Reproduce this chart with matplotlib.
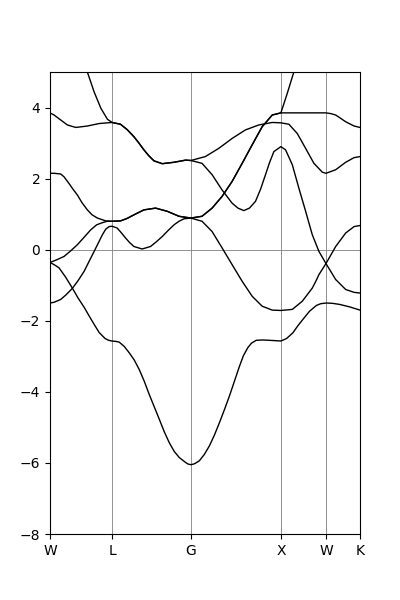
import numpy as np
import matplotlib
matplotlib.use("Agg")
import matplotlib.pyplot as plt

# high-symmetry points along the path
labels = ["W", "L", "G", "X", "W", "K"]
kpts = [0.0, 0.690, 1.565, 2.565, 3.066, 3.444]

# bands, one (k, E) list per visible line
k1 = [0.0, 0.045, 0.119, 0.193, 0.286, 0.415, 0.546, 0.690,
      0.783, 0.857, 0.932, 0.988, 1.043, 1.099, 1.155, 1.247, 1.378, 1.507, 1.565,
      1.726, 1.874, 2.023, 2.171, 2.320, 2.469, 2.565,
      2.654, 2.747, 2.840, 2.932, 3.026, 3.066,
      3.174, 3.285, 3.378, 3.444]
e1 = [3.85, 3.79, 3.65, 3.51, 3.44, 3.48, 3.55, 3.58,
      3.53, 3.38, 3.18, 3.00, 2.81, 2.64, 2.50, 2.42, 2.46, 2.52, 2.51,
      2.62, 2.85, 3.13, 3.37, 3.51, 3.58, 3.57,
      3.53, 3.27, 2.85, 2.43, 2.18, 2.15,
      2.25, 2.46, 2.59, 2.62]

k2 = [0.345, 0.415, 0.490, 0.565, 0.638, 0.690,
      0.783, 0.857, 0.932, 0.988, 1.043, 1.099, 1.155, 1.247, 1.378, 1.507, 1.565,
      1.689, 1.801, 1.912, 2.023, 2.088, 2.153, 2.216, 2.283, 2.339, 2.394, 2.439, 2.487, 2.565,
      2.617, 2.692, 2.765, 2.840, 2.914, 2.988, 3.066,
      3.174, 3.285, 3.378, 3.444]
e2 = [5.6, 5.0, 4.44, 3.98, 3.67, 3.58,
      3.53, 3.38, 3.18, 3.00, 2.81, 2.64, 2.50, 2.42, 2.46, 2.52, 2.51,
      2.43, 2.11, 1.68, 1.31, 1.17, 1.10, 1.17, 1.36, 1.70, 2.11, 2.45, 2.76, 2.90,
      2.81, 2.39, 1.73, 1.08, 0.42, -0.05, -0.39,
      -0.84, -1.12, -1.20, -1.22]

k3 = [0.0, 0.045, 0.119, 0.156, 0.212, 0.256, 0.304, 0.356, 0.415, 0.468, 0.527, 0.620, 0.690,
      0.783, 0.857, 0.932, 1.043, 1.173, 1.303, 1.433, 1.565,
      1.689, 1.801, 1.912, 2.023, 2.135, 2.246, 2.357, 2.469, 2.565,
      2.636, 2.709, 2.773]
e3 = [2.15, 2.15, 2.13, 2.05, 1.86, 1.70, 1.54, 1.32, 1.12, 0.98, 0.89, 0.81, 0.80,
      0.81, 0.88, 0.98, 1.12, 1.17, 1.08, 0.94, 0.89,
      0.94, 1.17, 1.50, 1.92, 2.43, 2.95, 3.46, 3.79, 3.85,
      4.40, 5.0, 5.6]

k4 = [0.0, 0.078, 0.156, 0.231, 0.304, 0.379, 0.453, 0.518, 0.582, 0.635, 0.690,
      0.783, 0.857, 0.932, 1.043, 1.173, 1.303, 1.433, 1.565,
      1.689, 1.801, 1.912, 2.023, 2.135, 2.246, 2.357, 2.469, 2.565,
      2.773, 3.066, 3.118, 3.174, 3.285, 3.378, 3.444]
e4 = [-0.36, -0.28, -0.19, -0.03, 0.14, 0.35, 0.56, 0.70, 0.76, 0.80, 0.80,
      0.81, 0.88, 0.98, 1.12, 1.17, 1.08, 0.94, 0.89,
      0.94, 1.17, 1.50, 1.92, 2.43, 2.95, 3.46, 3.79, 3.85,
      3.85, 3.85, 3.83, 3.79, 3.60, 3.48, 3.44]

k5 = [0.0, 0.045, 0.119, 0.178, 0.248, 0.312, 0.379, 0.434, 0.490, 0.535, 0.582, 0.620, 0.657, 0.690,
      0.746, 0.791, 0.839, 0.885, 0.932, 1.024, 1.117, 1.180, 1.247, 1.312, 1.378, 1.433, 1.489, 1.565,
      1.689, 1.801, 1.912, 2.023, 2.135, 2.246, 2.357, 2.469, 2.565,
      2.692, 2.803, 2.914, 2.951, 2.988, 3.066, 3.174, 3.285, 3.378, 3.444]
e5 = [-1.50, -1.48, -1.40, -1.27, -1.09, -0.87, -0.61, -0.33, -0.05, 0.18, 0.42, 0.58, 0.65, 0.66,
      0.61, 0.48, 0.33, 0.20, 0.09, 0.02, 0.09, 0.22, 0.37, 0.54, 0.70, 0.80, 0.87, 0.89,
      0.80, 0.51, 0.05, -0.42, -0.89, -1.31, -1.59, -1.70, -1.71,
      -1.68, -1.45, -1.08, -0.90, -0.70, -0.39, 0.09, 0.47, 0.65, 0.68]

k6 = [0.0, 0.045, 0.100, 0.173, 0.248, 0.312, 0.379, 0.434, 0.490, 0.546, 0.612, 0.652, 0.690,
      0.729, 0.768, 0.824, 0.880, 0.935, 0.991, 1.047, 1.102, 1.158, 1.214, 1.269, 1.325, 1.381, 1.437,
      1.503, 1.532, 1.565,
      1.598, 1.615, 1.659, 1.715, 1.771, 1.826, 1.882, 1.938, 1.993, 2.049, 2.105, 2.149, 2.197, 2.238,
      2.291, 2.361, 2.439, 2.506, 2.565,
      2.628, 2.698, 2.751, 2.810, 2.884, 2.959, 3.007, 3.070, 3.140, 3.218, 3.330, 3.444]
e6 = [-0.36, -0.42, -0.51, -0.77, -1.08, -1.36, -1.62, -1.86, -2.10, -2.33, -2.50, -2.55, -2.57,
      -2.58, -2.60, -2.72, -2.90, -3.10, -3.37, -3.70, -4.07, -4.42, -4.77, -5.12, -5.43, -5.68, -5.85,
      -5.98, -6.03, -6.05,
      -6.03, -6.01, -5.94, -5.76, -5.52, -5.22, -4.87, -4.50, -4.12, -3.70, -3.28, -2.98, -2.76, -2.63,
      -2.55, -2.54, -2.55, -2.56, -2.57,
      -2.50, -2.34, -2.15, -1.96, -1.73, -1.57, -1.52, -1.50, -1.51, -1.54, -1.61, -1.70]

bands = [(k1, e1), (k2, e2), (k3, e3), (k4, e4), (k5, e5), (k6, e6)]

fig, ax = plt.subplots(figsize=(4, 6), dpi=100)

for k in kpts:
    ax.axvline(k, color="grey", lw=0.6, zorder=1)
ax.axhline(0, color="grey", lw=0.6, zorder=1)

for k, e in bands:
    ax.plot(k, e, color="k", lw=1, zorder=2)

ax.set_xlim(kpts[0], kpts[-1])
ax.set_ylim(-8, 5)
ax.set_xticks(kpts)
ax.set_xticklabels(labels)
ax.set_yticks(np.arange(-8, 5, 2))

fig.savefig("out.png")
